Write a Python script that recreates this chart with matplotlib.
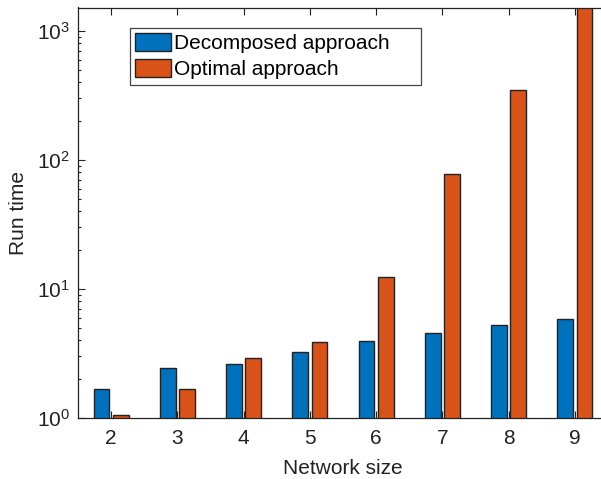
import matplotlib
matplotlib.use("Agg")
import matplotlib.pyplot as plt
import numpy as np

plt.rcParams['font.family'] = ['Liberation Sans', 'DejaVu Sans']
plt.rcParams['mathtext.fontset'] = 'custom'
plt.rcParams['mathtext.rm'] = 'Liberation Sans'

# Run times
network_size = [2, 3, 4, 5, 6, 7, 8, 9]
decomposed = [1.67, 2.45, 2.61, 3.27, 3.97, 4.56, 5.23, 5.89]
optimal = [1.05, 1.68, 2.94, 3.88, 12.3, 77.9, 349, 1900]

x = np.arange(len(network_size)) + network_size[0]
width = 0.24
offset = 0.145
fs = 15

fig = plt.figure(figsize=(6.01, 4.79), dpi=100)
ax = fig.add_axes([78 / 601, 1 - 418 / 479, (608 - 78) / 601, (418 - 7.5) / 479])

ax.bar(x - offset, decomposed, width, color='#0072BD', edgecolor='#222222',
       linewidth=1.0, label='Decomposed approach', zorder=2)
ax.bar(x + offset, optimal, width, color='#D95319', edgecolor='#222222',
       linewidth=1.0, label='Optimal approach', zorder=2)

ax.set_yscale('log')
ax.set_ylim(1, 1520)
ax.set_xlim(1.5, 9.5)
ax.set_xticks(x, [str(n) for n in network_size])

ax.tick_params(which='both', direction='in', top=True, right=True,
               labelsize=fs, colors='#222222', width=0.8)
ax.tick_params(which='major', length=5)
ax.tick_params(axis='x', pad=8)
ax.tick_params(axis='y', pad=6)
ax.tick_params(which='minor', length=2.5)
ax.tick_params(axis='x', which='minor', top=False, bottom=False)
for s in ax.spines.values():
    s.set_color('#222222')
    s.set_linewidth(0.9)

ax.set_xlabel('Network size', fontsize=fs, color='#222222', labelpad=8)
ax.set_ylabel('Run time', fontsize=fs, color='#222222', labelpad=6)

leg = ax.legend(loc='upper left',
                bbox_to_anchor=(130 / 601, 1 - 83 / 479, 291 / 601, 55 / 479),
                bbox_transform=fig.transFigure, borderaxespad=0, mode='expand',
                fontsize=fs, handlelength=1.73, handleheight=0.96,
                handletextpad=0.12, labelspacing=0.28, borderpad=0.25,
                fancybox=False, framealpha=1, edgecolor='#444444')
leg.get_frame().set_linewidth(0.9)

fig.savefig('out.png', dpi=100)
